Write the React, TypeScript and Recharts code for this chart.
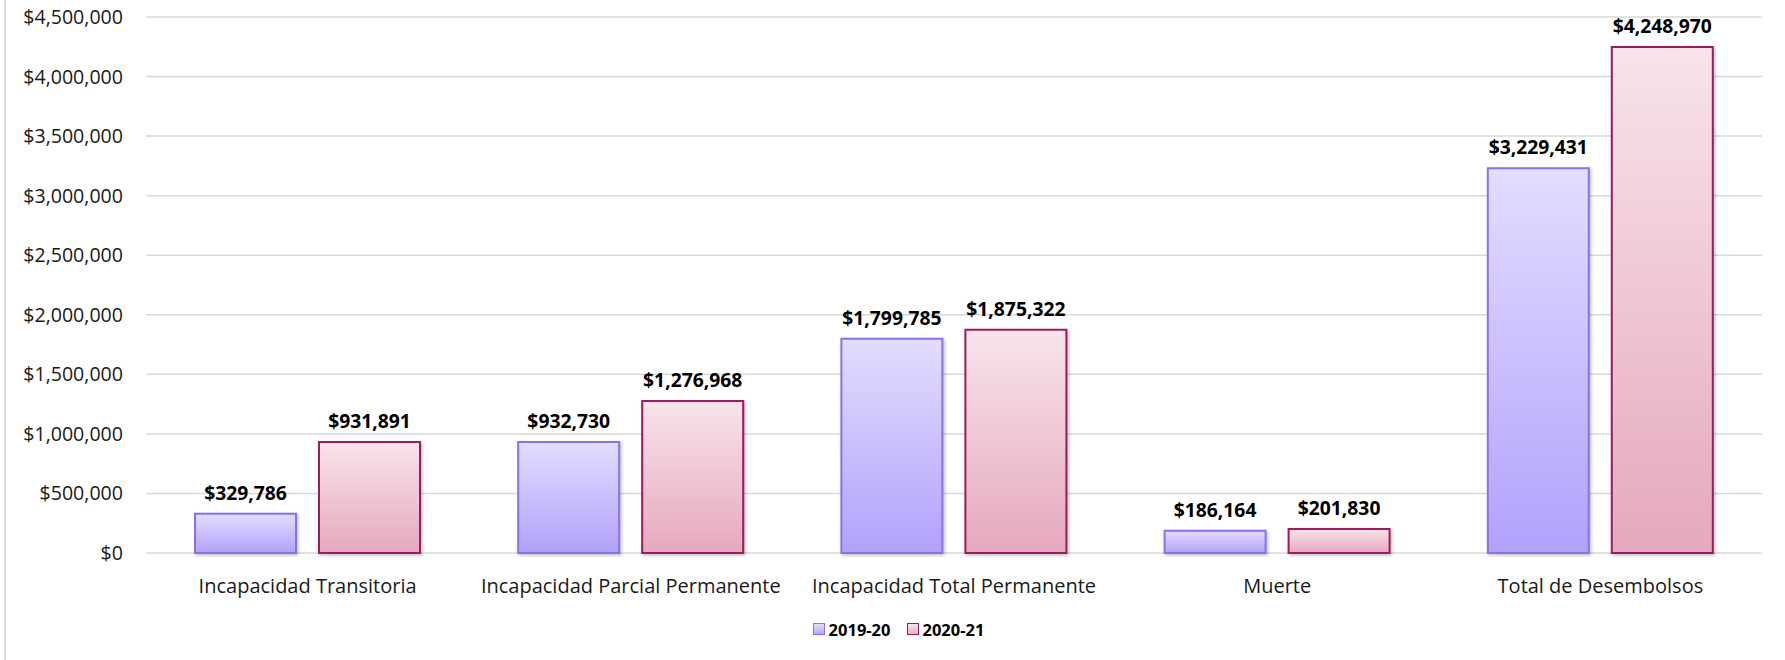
import React from 'react';
import { BarChart, Bar, XAxis, YAxis, CartesianGrid, Legend, LabelList } from 'recharts';

const categories = [
  'Incapacidad Transitoria',
  'Incapacidad Parcial Permanente',
  'Incapacidad Total Permanente',
  'Muerte',
  'Total de Desembolsos',
];
const series2019 = [329786, 932730, 1799785, 186164, 3229431];
const series2020 = [931891, 1276968, 1875322, 201830, 4248970];
const yTicks = [0, 500000, 1000000, 1500000, 2000000, 2500000, 3000000, 3500000, 4000000, 4500000];
const seriesNames = ['2019-20', '2020-21'];

const data = categories.map((c, i) => ({ name: c, a: series2019[i], b: series2020[i] }));

const FONT = '"Open Sans", "Noto Sans", sans-serif';
const money = (v: number) => '$' + v.toLocaleString('en-US');

const LegendContent = () => (
  <div style={{ display: 'flex', justifyContent: 'center', alignItems: 'center', fontFamily: FONT, fontWeight: 700, fontSize: 16.5, color: '#000', height: 30, paddingLeft: 35, marginTop: -3 }}>
    <span style={{ display: 'inline-block', width: 10, height: 10, border: '1.5px solid #8B6FE8', background: 'linear-gradient(#E3DDFE,#B8A8FD)', marginRight: 4 }} />
    <span style={{ marginRight: 16 }}>{seriesNames[0]}</span>
    <span style={{ display: 'inline-block', width: 10, height: 10, border: '1.5px solid #9B1B5F', background: 'linear-gradient(#F8E4EA,#E8B0C3)', marginRight: 4 }} />
    <span>{seriesNames[1]}</span>
  </div>
);

export default function App() {
  return (
    <div style={{ position: 'fixed', left: 0, top: 0, width: 1785, height: 660, background: '#fff' }}>
      <div style={{ position: 'absolute', left: 4, top: 0, width: 2, height: 660, background: '#D9D9D9' }} />
      <BarChart
        width={1785}
        height={660}
        data={data}
        margin={{ top: 17, right: 23, left: 0, bottom: 13 }}
        barSize={101}
        barGap={23}
      >
        <defs>
          <linearGradient id="gA" x1="0" y1="0" x2="0" y2="1">
            <stop offset="0%" stopColor="#E3DDFE" />
            <stop offset="100%" stopColor="#B2A1FD" />
          </linearGradient>
          <linearGradient id="gB" x1="0" y1="0" x2="0" y2="1">
            <stop offset="0%" stopColor="#F8E4EA" />
            <stop offset="100%" stopColor="#E6A8BE" />
          </linearGradient>
          <filter id="sh" x="-10%" y="-10%" width="130%" height="130%">
            <feDropShadow dx="1.5" dy="1.5" stdDeviation="1.5" floodColor="#000" floodOpacity="0.25" />
          </filter>
        </defs>
        <CartesianGrid vertical={false} stroke="#D9D9D9" strokeWidth={1.5} />
        <XAxis
          dataKey="name"
          height={64}
          tickLine={false}
          axisLine={false}
          tickSize={0}
          tickMargin={26}
          interval={0}
          tick={{ fontFamily: FONT, fontSize: 20, fill: '#1a1a1a' }}
        />
        <YAxis
          width={146}
          domain={[0, 4500000]}
          ticks={yTicks}
          tickFormatter={money}
          tickLine={false}
          axisLine={false}
          tickSize={0}
          tickMargin={23}
          tick={{ fontFamily: FONT, fontSize: 19.6, fill: '#1a1a1a' }}
        />
        <Legend verticalAlign="bottom" height={30} content={<LegendContent />} />
        <Bar dataKey="a" name={seriesNames[0]} fill="url(#gA)" stroke="#8B6FE8" strokeWidth={2} filter="url(#sh)" isAnimationActive={false}>
          <LabelList dataKey="a" position="top" offset={14} formatter={money} style={{ fontFamily: FONT, fontSize: 19.3, fontWeight: 700, fill: '#000' }} />
        </Bar>
        <Bar dataKey="b" name={seriesNames[1]} fill="url(#gB)" stroke="#9B1B5F" strokeWidth={2} filter="url(#sh)" isAnimationActive={false}>
          <LabelList dataKey="b" position="top" offset={14} formatter={money} style={{ fontFamily: FONT, fontSize: 19.3, fontWeight: 700, fill: '#000' }} />
        </Bar>
      </BarChart>
    </div>
  );
}
